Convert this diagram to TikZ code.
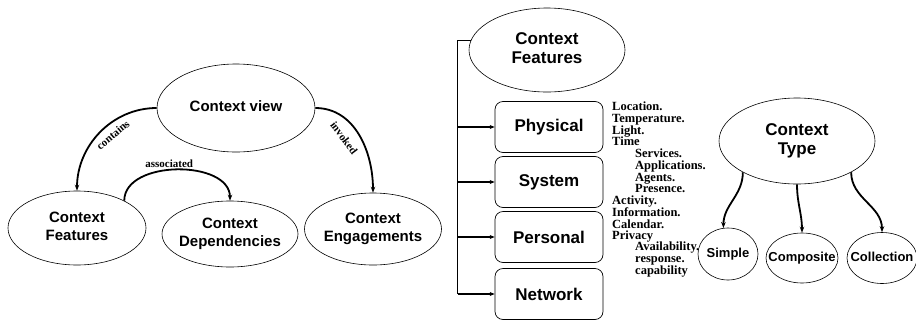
\documentclass[tikz,border=0pt]{standalone}
\usepackage{fontspec}
\setmainfont{Liberation Serif}
\setsansfont{Liberation Sans}
\usetikzlibrary{shapes.geometric,arrows.meta,positioning}
% text that does not widen its ellipse
\newcommand{\ctxt}[1]{\makebox[0pt]{\begin{tabular}{@{}c@{}}#1\end{tabular}}}

\begin{document}
\begin{tikzpicture}[
    x=1pt, y=1pt,
    oval/.style={ellipse, draw, line width=0.6pt, inner sep=0pt,
                 font=\sffamily\bfseries\fontsize{15}{18}\selectfont},
    bigoval/.style={oval, font=\sffamily\bfseries\fontsize{17}{19}\selectfont},
    smalloval/.style={oval, font=\sffamily\bfseries\fontsize{13}{15}\selectfont},
    featbox/.style={rectangle, draw, rounded corners=8pt, line width=0.7pt,
                    minimum width=108pt, minimum height=51pt,
                    font=\sffamily\bfseries\fontsize{17}{19}\selectfont},
    link/.style={-{Stealth[length=6pt,width=4.5pt]}, line width=1.8pt},
    branch/.style={-{Stealth[length=5pt,width=4pt]}, line width=1.3pt},
    lbl/.style={font=\bfseries\fontsize{11}{12}\selectfont, inner sep=1.5pt},
    list/.style={anchor=north west, align=left, inner sep=0pt,
                 font=\bfseries\fontsize{12.5}{11.6}\selectfont}
]
  \useasboundingbox (0,0) rectangle (916,-322);

  % Context view and what it is made of
  \node[oval, minimum width=158pt, minimum height=88pt] (view) at (236,-108) {\ctxt{Context view}};
  \node[oval, minimum width=138pt, minimum height=74pt] (feat) at (77,-228) {\ctxt{Context\\Features}};
  \node[oval, minimum width=136pt, minimum height=66pt] (dep)  at (230,-234) {\ctxt{Context\\Dependencies}};
  \node[oval, minimum width=137pt, minimum height=72pt] (eng)  at (373,-229) {\ctxt{Context\\Engagements}};

  \draw[link] (view.west) to[out=180, in=90] (feat.north);
  \draw[link] (view.east) to[out=0, in=90] (eng.north);
  \draw[link] (feat.30) to[out=90, in=90]
        node[lbl, pos=.45, above] {associated} (dep.north);
  \node[lbl, rotate=40]  (containslbl) at (113,-135) {contains};
  \node[lbl, rotate=-53] (invokedlbl)  at (344,-138) {invoked};

  % Context features and their kinds
  \node[bigoval, minimum width=156pt, minimum height=84pt] (cf) at (547,-50) {\ctxt{Context\\Features}};
  \foreach \name/\txt/\y in {phys/Physical/127, sys/System/182, pers/Personal/237, net/Network/294}
    \node[featbox] (\name) at (549,-\y) {\txt};

  \draw[line width=1.6pt] (cf.173) -- ++(-13,0) coordinate (root) -- (root |- net.west);
  \foreach \name in {phys, sys, pers, net}
    \draw[branch] (root |- \name.west) -- (\name.west);

  \node[list] (physlist) at (612,-102) {Location.\\Temperature.\\Light.\\Time};
  \node[list] (syslist)  at (635,-149) {Services.\\Applications.\\Agents.\\Presence.};
  \node[list] (perslist) at (612,-196) {Activity.\\Information.\\Calendar.\\Privacy};
  \node[list] (netlist)  at (635,-242) {Availability.\\response.\\capability};

  % Context type
  \node[bigoval, minimum width=156pt, minimum height=86pt] (ct) at (797,-141) {\ctxt{Context\\Type}};
  \node[smalloval, minimum width=60pt, minimum height=52pt] (simple) at (728,-254) {\ctxt{Simple}};
  \node[smalloval, minimum width=72pt, minimum height=50pt] (comp)   at (802,-258) {\ctxt{Composite}};
  \node[smalloval, minimum width=70pt, minimum height=51pt] (coll)   at (882,-258) {\ctxt{Collection}};

  \draw[link] (ct.210)   to[out=-90, in=90] (simple.100);
  \draw[link] (ct.south) to[out=-90, in=90] (comp.north);
  \draw[link] (ct.330)   to[out=-90, in=90] (coll.north);
\end{tikzpicture}
\end{document}
